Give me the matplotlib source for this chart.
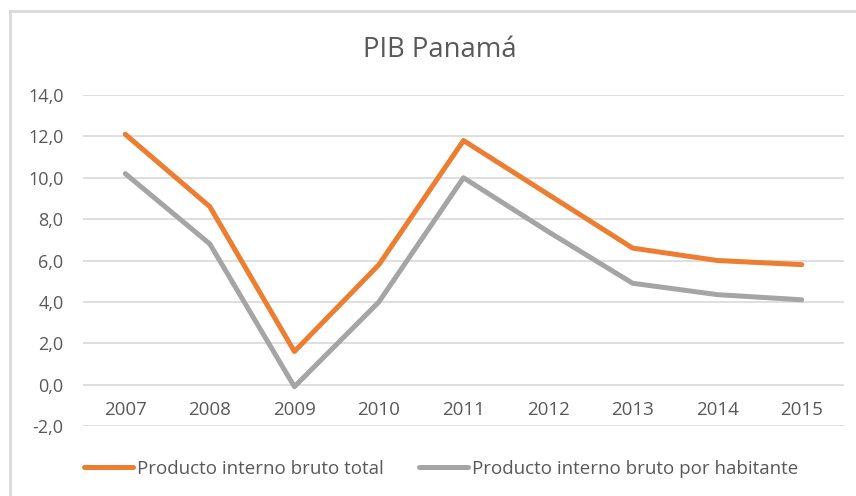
import matplotlib
matplotlib.use("Agg")
import matplotlib.pyplot as plt
from matplotlib.lines import Line2D

# ─── Data ─────────────────────────────────────────────────────────────────────
years = ["2007", "2008", "2009", "2010", "2011", "2012", "2013", "2014", "2015"]
pib_total = [12.1, 8.6, 1.6, 5.8, 11.8, 9.2, 6.6, 6.0, 5.8]
pib_habitante = [10.2, 6.8, -0.1, 4.0, 10.0, 7.4, 4.9, 4.35, 4.1]
y_ticks = [-2, 0, 2, 4, 6, 8, 10, 12, 14]

ORANGE = "#ED7D31"
GRAY = "#A5A5A5"
TEXT = "#595959"
GRID = "#D9D9D9"

plt.rcParams["font.family"] = ["Open Sans", "DejaVu Sans"]

W, H = 856, 496
fig = plt.figure(figsize=(W / 100, H / 100), dpi=100)
ax = fig.add_axes([83 / W, 1 - 426 / H, (844 - 83) / W, (426 - 95) / H])

x = list(range(len(years)))
ax.plot(x, pib_total, color=ORANGE, lw=3.6, solid_capstyle="round", zorder=3)
ax.plot(x, pib_habitante, color=GRAY, lw=3.6, solid_capstyle="round", zorder=2)

ax.set_xlim(-0.5, len(years) - 0.5)
ax.set_ylim(-2, 14)
ax.set_yticks(y_ticks)
ax.set_yticklabels([f"{v:.1f}".replace(".", ",") for v in y_ticks])
ax.set_xticks(x)
ax.set_xticklabels(years)

for s in ["top", "right", "left"]:
    ax.spines[s].set_visible(False)
ax.spines["bottom"].set_position(("data", 0))
ax.spines["bottom"].set_visible(False)

ax.grid(axis="y", color=GRID, lw=1.2)
ax.set_axisbelow(True)
ax.tick_params(axis="y", length=0, pad=14, labelsize=13, labelcolor=TEXT)
ax.tick_params(axis="x", length=0, pad=12, labelsize=13.5, labelcolor=TEXT)

fig.text(440 / W, 1 - 50 / H, "PIB Panamá", ha="center", va="center",
         fontsize=19.8, color=TEXT)

# Outer chart frame (only top/left edges visible in the crop)
fig.add_artist(Line2D([10 / W, 10 / W], [0, 1 - 11 / H], transform=fig.transFigure,
                      color=GRID, lw=2))
fig.add_artist(Line2D([10 / W, 1], [1 - 11 / H, 1 - 11 / H], transform=fig.transFigure,
                      color=GRID, lw=2))

# Legend
handles = [Line2D([], [], color=ORANGE, lw=3.6, solid_capstyle="round"),
           Line2D([], [], color=GRAY, lw=3.6, solid_capstyle="round")]
fig.legend(handles, ["Producto interno bruto total", "Producto interno bruto por habitante"],
           loc="center", bbox_to_anchor=(441 / W, 1 - 469 / H), ncol=2, frameon=False,
           fontsize=13.5, labelcolor=TEXT, handlelength=2.6, handletextpad=0.2,
           columnspacing=1.9)

fig.savefig("out.png", dpi=100)
